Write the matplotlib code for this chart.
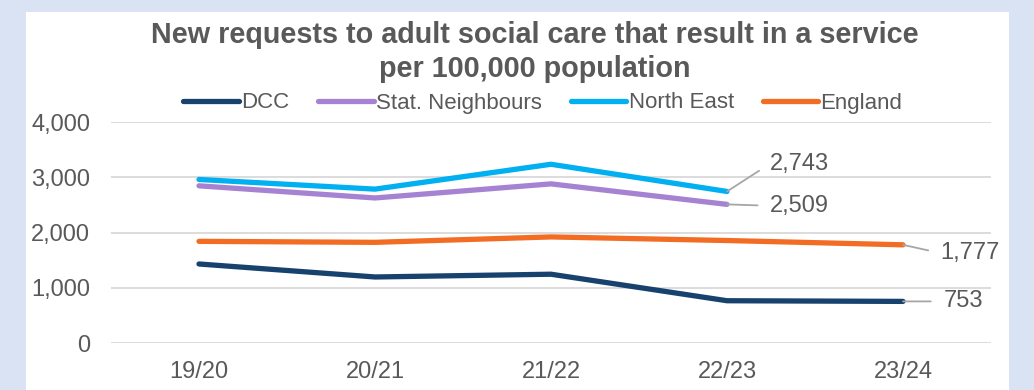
import matplotlib.pyplot as plt

plt.rcParams['font.family'] = ['Liberation Sans', 'DejaVu Sans']

years = ['19/20', '20/21', '21/22', '22/23', '23/24']
dcc = [1430, 1195, 1245, 765, 753]
stat_neighbours = [2845, 2625, 2880, 2509]
north_east = [2960, 2785, 3235, 2743]
england = [1840, 1822, 1920, 1855, 1777]

text_col = '#595959'
grid_col = '#D9D9D9'

fig = plt.figure(figsize=(10.34, 3.9), dpi=100)
fig.patch.set_facecolor('#DAE3F3')

# white chart panel behind everything
bg = fig.add_axes([26 / 1034, 0, (1009 - 26) / 1034, 1 - 12 / 390], zorder=-1)
bg.set_facecolor('white')
bg.set_xticks([])
bg.set_yticks([])
for s in bg.spines.values():
    s.set_visible(False)

ax = fig.add_axes([111 / 1034, 1 - 343 / 390, (991 - 111) / 1034, (343 - 122) / 390], zorder=1)
ax.set_facecolor('none')

x = list(range(len(years)))
lw = 3.8
ax.plot(x, dcc, color='#17426E', lw=lw, label='DCC', solid_capstyle='round')
ax.plot(x[:4], stat_neighbours, color='#A683D2', lw=lw, label='Stat. Neighbours', solid_capstyle='round')
ax.plot(x[:4], north_east, color='#00B0F0', lw=lw, label='North East', solid_capstyle='round')
ax.plot(x, england, color='#F36C24', lw=lw, label='England', solid_capstyle='round')

ax.set_xlim(-0.5, 4.5)
ax.set_ylim(0, 4000)
ax.set_yticks([0, 1000, 2000, 3000, 4000])
ax.set_yticklabels(['0', '1,000', '2,000', '3,000', '4,000'])
ax.set_xticks(x)
ax.set_xticklabels(years)
ax.tick_params(axis='both', length=0, labelsize=17, colors=text_col)
ax.tick_params(axis='y', pad=15)
ax.tick_params(axis='x', pad=13)
ax.grid(axis='y', color=grid_col, lw=1.3)
ax.set_axisbelow(True)
for s in ax.spines.values():
    s.set_visible(False)

# data labels with leader lines
def label(xi, yi, txt, dx, dy):
    ax.annotate(txt, xy=(xi, yi), xytext=(dx, dy), textcoords='offset points',
                ha='left', va='center', fontsize=17, color=text_col,
                arrowprops=dict(arrowstyle='-', color='#A6A6A6', lw=1.3,
                                relpos=(0, 0.5), shrinkA=7, shrinkB=0))

label(3, north_east[3], f'{north_east[3]:,}', 31, 20)
label(3, stat_neighbours[3], f'{stat_neighbours[3]:,}', 31, -1)
label(4, england[4], f'{england[4]:,}', 27, -6)
label(4, dcc[4], f'{dcc[4]:,}', 29, 0)

fig.text(0.517, 1 - 52 / 390, 'New requests to adult social care that result in a service\nper 100,000 population',
         ha='center', va='center', fontsize=20.7, fontweight='bold', color=text_col,
         linespacing=1.28)

leg = fig.legend(loc='center', bbox_to_anchor=(0.525, 1 - 103 / 390), ncol=4, frameon=False,
                 fontsize=16, handlelength=2.5, handletextpad=0.1, columnspacing=1.3)
for t in leg.get_texts():
    t.set_color(text_col)

fig.savefig('out.png', dpi=100)
